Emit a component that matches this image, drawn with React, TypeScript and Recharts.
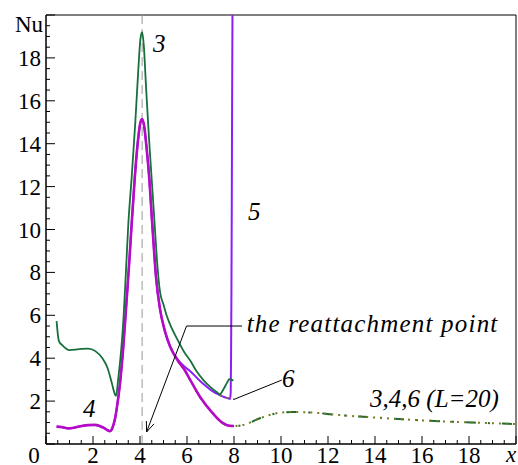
import { LineChart, Line, XAxis, YAxis, ReferenceLine, ReferenceArea, ReferenceDot } from "recharts";

// Nu(x) curves, case 3 (green), 4 (magenta), 5 (violet), 6 and the L=20 runs
const curve3X = [0.45, 0.55, 0.7, 1.0, 1.4, 1.8, 2.1, 2.4, 2.6, 2.8, 2.92, 2.98, 3.07, 3.2, 3.3, 3.4, 3.5, 3.65, 3.8, 3.92, 4.02, 4.09, 4.16, 4.25, 4.38, 4.5, 4.62, 4.72, 4.85, 5.0, 5.13, 5.35, 5.56, 5.9, 6.13, 6.4, 6.7, 7.0, 7.26, 7.4, 7.55, 7.7, 7.8, 7.9, 7.97];
const curve3Y = [5.73, 4.8, 4.6, 4.38, 4.42, 4.45, 4.33, 4.0, 3.6, 2.85, 2.35, 2.24, 3.0, 4.4, 5.9, 8.0, 10.2, 12.5, 15.0, 17.3, 18.9, 19.2, 18.6, 16.8, 14.3, 12.3, 10.3, 8.6, 7.1, 6.5, 6.0, 5.4, 4.94, 4.25, 3.9, 3.4, 2.98, 2.65, 2.42, 2.32, 2.55, 2.85, 3.02, 3.0, 2.95];

const curve4X = [0.45, 0.7, 0.95, 1.2, 1.52, 1.8, 2.08, 2.3, 2.5, 2.62, 2.72, 2.8, 2.87, 2.95, 3.0, 3.15, 3.29, 3.43, 3.55, 3.63, 3.77, 3.9, 4.0, 4.09, 4.18, 4.28, 4.4, 4.5, 4.58, 4.68, 4.85, 5.05, 5.28, 5.6, 5.9, 6.13, 6.55, 7.1, 7.53, 7.8, 8.0];
const curve4Y = [0.81, 0.78, 0.73, 0.76, 0.84, 0.88, 0.89, 0.83, 0.73, 0.64, 0.6, 0.68, 0.89, 1.25, 1.58, 2.84, 4.54, 6.7, 8.6, 10.0, 12.3, 14.0, 14.9, 15.15, 14.8, 13.8, 12.3, 10.6, 9.3, 7.8, 6.3, 5.3, 4.55, 3.9, 3.45, 3.0, 2.2, 1.43, 0.97, 0.85, 0.84];

const curve5X = [0.45, 0.7, 0.95, 1.2, 1.52, 1.8, 2.08, 2.3, 2.5, 2.62, 2.72, 2.8, 2.87, 2.95, 3.0, 3.15, 3.29, 3.43, 3.55, 3.63, 3.77, 3.9, 4.0, 4.09, 4.18, 4.28, 4.4, 4.5, 4.58, 4.68, 4.85, 5.05, 5.28, 5.6, 5.9, 6.13, 6.5, 6.84, 7.1, 7.4, 7.6, 7.75, 7.83, 7.86, 7.875, 7.89, 7.905, 7.92, 7.935];
const curve5Y = [0.81, 0.78, 0.73, 0.76, 0.84, 0.88, 0.89, 0.83, 0.73, 0.64, 0.6, 0.68, 0.89, 1.25, 1.58, 2.84, 4.54, 6.7, 8.6, 10.0, 12.3, 14.0, 14.9, 15.15, 14.8, 13.8, 12.3, 10.6, 9.3, 7.8, 6.3, 5.3, 4.55, 3.95, 3.6, 3.4, 3.0, 2.67, 2.45, 2.28, 2.18, 2.13, 2.1, 2.4, 4.0, 7.0, 11.0, 16.0, 20.0];

const curve6X = [7.4, 7.6, 7.8, 8.0];
const curve6Y = [2.28, 2.18, 2.12, 2.1];

const longX = [5.6, 5.9, 6.13, 6.55, 7.1, 7.53, 7.8, 8.0, 8.4, 9.1, 9.6, 9.96, 10.5, 11.4, 12.37, 13.5, 14.2, 15.2, 16.2, 17.2, 18.2, 19.2, 20.0];
const longY = [3.9, 3.45, 3.0, 2.2, 1.43, 0.97, 0.85, 0.84, 0.89, 1.2, 1.38, 1.46, 1.49, 1.46, 1.36, 1.27, 1.22, 1.15, 1.09, 1.04, 1.0, 0.96, 0.93];

const xTickLabels = [0, 2, 4, 6, 8, 10, 12, 14, 16, 18];
const yTickLabels = [2, 4, 6, 8, 10, 12, 14, 16, 18];
const xTicks = Array.from({ length: 41 }, (_, i) => i * 0.5);
const yTicks = Array.from({ length: 41 }, (_, i) => i * 0.5);

const reattachX = 4.09;

const pts = (xs: number[], ys: number[]) => xs.map((x, i) => ({ x, y: ys[i] }));

const FAMILY = "Liberation Serif, DejaVu Serif, serif";
const serif = { fontFamily: FAMILY, fontSize: 23 };
const serifItalic = { fontFamily: FAMILY, fontSize: 25, fontStyle: "italic" as const };

function XTick({ x, y, payload }: any) {
  const v = payload.value;
  const major = v % 2 === 0;
  let label = null;
  if (v === 20) {
    label = (
      <text x={x - 5} y={y + 18} textAnchor="middle" style={{ ...serif, fontStyle: "italic" }} fill="#000">
        x
      </text>
    );
  } else if (xTickLabels.includes(v)) {
    label = (
      <text x={v === 0 ? x - 12 : x} y={y + 19} textAnchor="middle" style={serif} fill="#000">
        {v}
      </text>
    );
  }
  return (
    <g>
      <line x1={x} x2={x} y1={y} y2={y - (major ? 8 : 4)} stroke="#000" strokeWidth={1} />
      {label}
    </g>
  );
}

function YTick({ x, y, payload }: any) {
  const v = payload.value;
  const major = v % 2 === 0;
  let label = null;
  if (v === 20) {
    label = (
      <text x={x - 3} y={y + 17} textAnchor="end" style={serif} fill="#000">
        Nu
      </text>
    );
  } else if (yTickLabels.includes(v)) {
    label = (
      <text x={x - 5} y={y + 8} textAnchor="end" style={serif} fill="#000">
        {v}
      </text>
    );
  }
  return (
    <g>
      <line x1={x} x2={x + (major ? 9 : 4)} y1={y} y2={y} stroke="#000" strokeWidth={1} />
      {label}
    </g>
  );
}

// italic annotation anchored at a data point (baseline-left)
const note = (text: string, spacing = 0) => (p: any) => (
  <text x={p.cx} y={p.cy} style={{ ...serifItalic, letterSpacing: spacing }} fill="#000">
    {text}
  </text>
);

function Arrow(p: any) {
  const { x1, y1, x2, y2 } = p;
  const a = Math.atan2(y2 - y1, x2 - x1);
  const len = 11;
  const spread = 0.38;
  const ax = x2 - len * Math.cos(a - spread);
  const ay = y2 - len * Math.sin(a - spread);
  const bx = x2 - len * Math.cos(a + spread);
  const by = y2 - len * Math.sin(a + spread);
  return (
    <g stroke="#000" strokeWidth={1} fill="none">
      <line x1={x1} y1={y1} x2={x2} y2={y2} />
      <polyline points={`${ax},${ay} ${x2},${y2} ${bx},${by}`} />
    </g>
  );
}

export default function App() {
  return (
    <div style={{ position: "absolute", left: 0, top: 0 }}>
      <LineChart width={518} height={465} margin={{ top: 15, right: 2, left: 0, bottom: 0 }}>
        <XAxis
          dataKey="x"
          type="number"
          domain={[0, 20]}
          ticks={xTicks}
          interval={0}
          tick={<XTick />}
          tickLine={false}
          tickSize={0}
          tickMargin={0}
          height={21}
          stroke="#000"
          allowDataOverflow
        />
        <YAxis
          type="number"
          domain={[0, 20]}
          ticks={yTicks}
          interval={0}
          tick={<YTick />}
          tickLine={false}
          tickSize={0}
          tickMargin={0}
          width={46}
          stroke="#000"
          allowDataOverflow
        />
        <ReferenceArea x1={0} x2={20} y1={0} y2={20} fill="none" stroke="#000" strokeWidth={1} fillOpacity={0} />
        <ReferenceLine x={reattachX} stroke="#999" strokeDasharray="9 5" strokeWidth={1} />

        <Line data={pts(longX, longY)} dataKey="y" type="monotone" stroke="#1d6b35" strokeWidth={2} strokeDasharray="10 12 2 12" dot={false} isAnimationActive={false} />
        <Line data={pts(longX, longY)} dataKey="y" type="monotone" stroke="#7d7a1e" strokeWidth={2} strokeDasharray="2 5" dot={false} isAnimationActive={false} />
        <Line data={pts(curve5X, curve5Y)} dataKey="y" type="monotone" stroke="#8c1ef5" strokeWidth={2} dot={false} isAnimationActive={false} />
        <Line data={pts(curve6X, curve6Y)} dataKey="y" type="monotone" stroke="#7d7a1e" strokeWidth={2} strokeDasharray="2 5" dot={false} isAnimationActive={false} />
        <Line data={pts(curve4X, curve4Y)} dataKey="y" type="monotone" stroke="#b40cc6" strokeWidth={2.6} dot={false} isAnimationActive={false} />
        <Line data={pts(curve3X, curve3Y)} dataKey="y" type="monotone" stroke="#17703c" strokeWidth={1.8} dot={false} isAnimationActive={false} />

        <ReferenceLine segment={[{ x: 5.98, y: 5.5 }, { x: 8.34, y: 5.5 }]} stroke="#000" strokeWidth={1} />
        <ReferenceLine segment={[{ x: 5.98, y: 5.5 }, { x: 4.28, y: 0.56 }]} shape={<Arrow />} />
        <ReferenceLine segment={[{ x: 7.98, y: 2.07 }, { x: 10.03, y: 2.98 }]} stroke="#000" strokeWidth={1} />

        <ReferenceDot x={4.55} y={18.28} r={0} shape={note("3")} />
        <ReferenceDot x={8.6} y={10.44} r={0} shape={note("5")} />
        <ReferenceDot x={1.57} y={1.26} r={0} shape={note("4")} />
        <ReferenceDot x={10.04} y={2.66} r={0} shape={note("6")} />
        <ReferenceDot x={8.54} y={5.22} r={0} shape={note("the reattachment point", 1.2)} />
        <ReferenceDot x={13.79} y={1.74} r={0} shape={note("3,4,6 (L=20)")} />
      </LineChart>
    </div>
  );
}
